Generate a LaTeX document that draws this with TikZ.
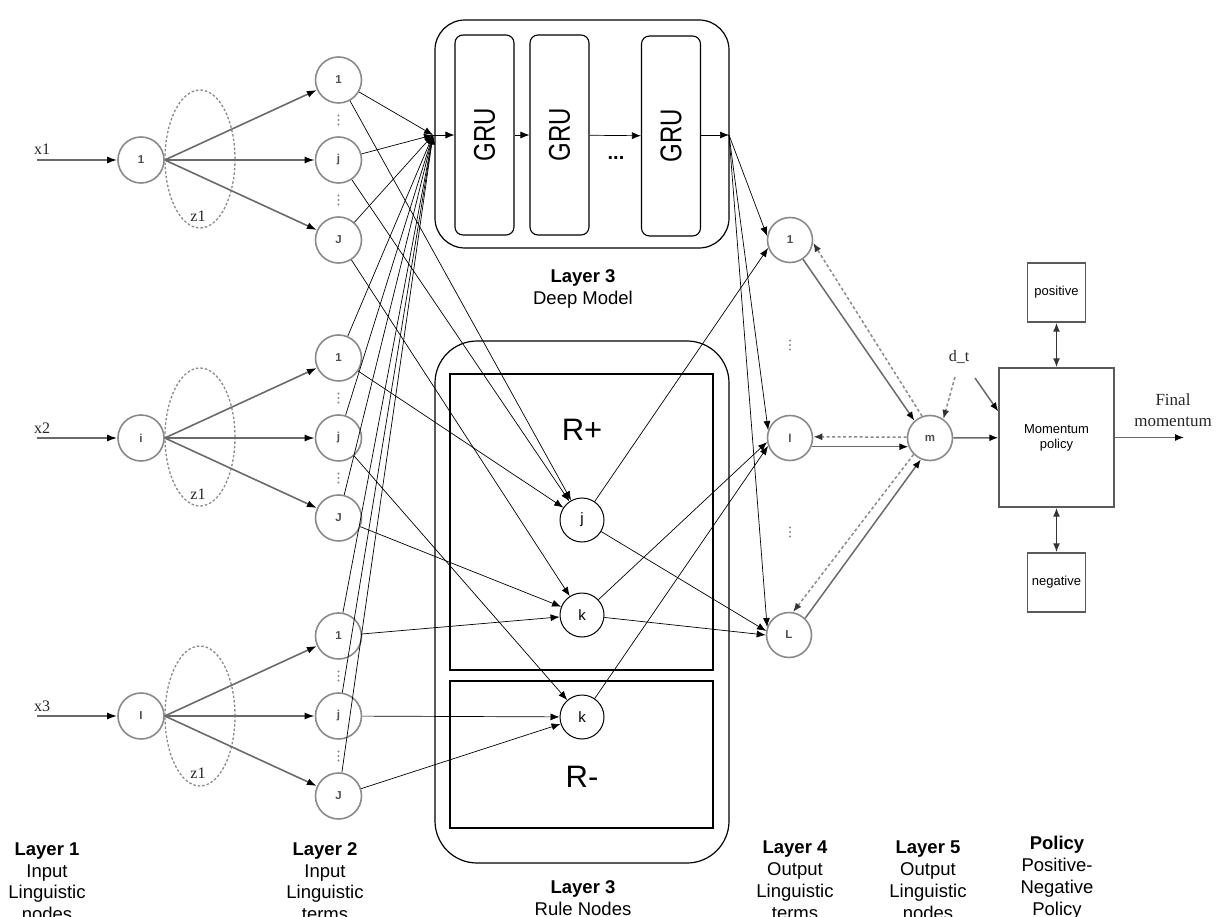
\documentclass[tikz,border=0pt]{standalone}
\usepackage{fontspec}
\setmainfont{Liberation Sans}
\newfontfamily\seriffont{Liberation Serif}
\usetikzlibrary{arrows.meta,calc}
\definecolor{cgray}{HTML}{8A8A8A}
\definecolor{lgray}{HTML}{6A6A6A}
\definecolor{tgray}{HTML}{505050}
\definecolor{bgray}{HTML}{5A5A5A}
\begin{document}
\begin{tikzpicture}[x=1pt,y=-1pt,
  lnode/.style={circle, draw=cgray, line width=1.6pt, fill=white, minimum size=46pt, inner sep=0pt, font=\fontsize{11.5}{11.5}\selectfont\bfseries, text=tgray},
  onode/.style={circle, draw=cgray, line width=1.6pt, fill=white, minimum size=45pt, inner sep=0pt, font=\fontsize{11.5}{11.5}\selectfont\bfseries, text=tgray},
  rnode/.style={circle, draw=black, line width=1pt, fill=white, minimum size=44pt, inner sep=0pt, font=\fontsize{15}{15}\selectfont},
  grubox/.style={draw=black, line width=1.1pt, rounded corners=8pt, minimum width=59pt, minimum height=200pt, inner sep=0pt},
  grutext/.style={rotate=90, font=\fontsize{30}{30}\selectfont, inner sep=0pt},
  pbox/.style={draw=bgray, line width=1.4pt, inner sep=0pt, align=center, font=\fontsize{13}{15}\selectfont},
  garr/.style={draw=lgray, line width=1.6pt, -{Latex[length=10pt,width=7pt,color=black]}},
  tarr/.style={draw=black, line width=0.7pt, -{Latex[length=9pt,width=7pt]}},
  sarr/.style={draw=lgray, line width=1.5pt, -{Latex[length=9pt,width=7pt,color=black]}},
  darr/.style={draw=cgray, line width=1.5pt, dash pattern=on 3pt off 2.5pt, -{Latex[length=9pt,width=7pt,color=black!80]}},
  barr/.style={draw=black!80, line width=1.5pt, {Latex[length=9pt,width=7pt]}-{Latex[length=9pt,width=7pt]}},
  zell/.style={draw=cgray, line width=1.3pt, dash pattern=on 2.5pt off 2pt},
  blab/.style={anchor=base, inner sep=0pt, font=\fontsize{18.5}{22}\selectfont},
  slab/.style={inner sep=0pt, font=\fontsize{16}{18}\seriffont, text=black!85},
  vdot/.style={fill=cgray, draw=none}
]
\useasboundingbox (0,0) rectangle (1229,917);
\clip (0,0) rectangle (1229,917);

% ---------- containers ----------
\node[draw=black, line width=1.2pt, rounded corners=30pt, minimum width=294pt, minimum height=228pt, inner sep=0pt] (deep) at (582,134) {};
\node[grubox] (g1) at (484.5,135) {};
\node[grubox] (g2) at (559.5,135) {};
\node[grubox] (g3) at (671,136) {};
\node[grutext] (gt1) at (g1) {\scalebox{0.8}[1]{GRU}};
\node[grutext] (gt2) at (g2) {\scalebox{0.8}[1]{GRU}};
\node[grutext] (gt3) at (g3) {\scalebox{0.8}[1]{GRU}};
\node[inner sep=0pt, font=\fontsize{20}{20}\selectfont\bfseries] (gdots) at (616,158) {...};

\node[draw=black, line width=1.2pt, rounded corners=42pt, minimum width=294pt, minimum height=522pt, inner sep=0pt] (rules) at (582,602) {};
\node[draw=black, line width=1.2pt, minimum width=263pt, minimum height=296pt, inner sep=0pt] (rplus) at (581.5,522) {};
\node[draw=black, line width=1.2pt, minimum width=263pt, minimum height=147pt, inner sep=0pt] (rminus) at (581.5,754.5) {};
\node[inner sep=0pt, font=\fontsize{31}{31}\selectfont] (rpl) at (582,430) {R+};
\node[inner sep=0pt, font=\fontsize{31}{31}\selectfont] (rml) at (582,777) {R-};

% ---------- layer 1 ----------
\node[lnode] (a1) at (141,160) {1};
\node[lnode] (a2) at (141,438) {i};
\node[lnode] (a3) at (141,716) {I};
\draw[zell] (200,159) ellipse [x radius=35pt, y radius=69pt];
\draw[zell] (200,437) ellipse [x radius=35pt, y radius=69pt];
\draw[zell] (200,716) ellipse [x radius=35pt, y radius=70pt];
\node[slab] (z1a) at (198,216) {z1};
\node[slab] (z1b) at (198,494) {z1};
\node[slab] (z1c) at (198,773) {z1};
\node[slab, anchor=base west] (x1l) at (34,155) {x1};
\node[slab, anchor=base west] (x2l) at (34,433) {x2};
\node[slab, anchor=base west] (x3l) at (34,711) {x3};
\coordinate (x1s) at (37,160);
\coordinate (x2s) at (37,438);
\coordinate (x3s) at (37,716);
\draw[garr] (x1s) -- (a1);
\draw[garr] (x2s) -- (a2);
\draw[garr] (x3s) -- (a3);

% ---------- layer 2 ----------
\node[lnode] (b11) at (338.5,80) {1};
\node[lnode] (b12) at (338.5,160) {j};
\node[lnode] (b13) at (338.5,240) {J};
\node[lnode] (b21) at (338.5,358) {1};
\node[lnode] (b22) at (338.5,438) {j};
\node[lnode] (b23) at (338.5,518) {J};
\node[lnode] (b31) at (338.5,636) {1};
\node[lnode] (b32) at (338.5,716) {j};
\node[lnode] (b33) at (338.5,796) {J};
\foreach \px/\py in {338.5/120,338.5/200,338.5/398,338.5/478,338.5/676,338.5/756,790/345,790/532}
  \foreach \dy in {-4.5,0,4.5}
    \fill[vdot] (\px,\py+\dy) circle [radius=1.1pt];

\foreach \s/\t in {a1/b11,a1/b12,a1/b13,a2/b21,a2/b22,a2/b23,a3/b31,a3/b32,a3/b33}
  \draw[garr] (\s.east) -- (\t);

% ---------- rule nodes ----------
\node[rnode] (jp) at (582,520) {j};
\node[rnode] (kp) at (582,615) {k};
\node[rnode] (km) at (582,717) {k};

% ---------- layer 4 / 5 ----------
\node[onode] (o1) at (790,240) {1};
\node[onode] (ol) at (790,438) {l};
\node[onode] (oL) at (789,635) {L};
\node[onode] (m) at (930,438) {m};

% ---------- policy ----------
\node[pbox, minimum width=115pt, minimum height=139pt] (mp) at (1056.5,437.5) {Momentum\\policy};
\node[pbox, minimum width=58pt, minimum height=59pt] (pos) at (1056.5,292.5) {positive};
\node[pbox, minimum width=58pt, minimum height=59pt] (neg) at (1056.5,582.5) {negative};

% ---------- connectors into the deep model ----------
\coordinate (conv) at (433,135);
\coordinate (gout) at (729,135);
\foreach \b in {b11,b12,b13,b21,b22,b23,b31,b32,b33}
  \draw[tarr] (\b) -- (conv);
\draw[tarr] (conv) -- (g1);
\draw[tarr] (g1) -- (g2);
\draw[tarr] (g2) -- (g3);
\draw[tarr] (g3.east |- gout) -- (gout);

% ---------- layer 2 -> rule nodes ----------
\foreach \s/\t in {b11/jp,b12/jp,b21/jp,b13/kp,b23/kp,b31/kp,b22/km,b32/km,b33/km}
  \draw[tarr] (\s) -- (\t);

% ---------- into layer 4 ----------
\draw[tarr] (gout) -- (o1.170);
\draw[tarr] (gout) -- (ol.160);
\draw[tarr] (gout) -- (oL.160);
\draw[tarr] (jp) -- (o1.200);
\draw[tarr] (jp) -- (oL.170);
\draw[tarr] (kp) -- (ol.190);
\draw[tarr] (kp) -- (oL.180);
\draw[tarr] (km) -- (ol.200);

% ---------- layer 4 <-> layer 5 ----------
\draw[sarr] (o1.-56) -- (m.132);
\draw[darr] (m.110) -- (o1.-7);
\draw[darr] (m.178) -- (ol.3);
\draw[sarr] (ol.-22) -- (m.-158);
\draw[sarr] (oL.46) -- (m.-113);
\draw[darr] (m.-135) -- (oL.80);

\node[slab, anchor=base] (dt) at (959,362) {d\_t};
\coordinate (dts) at (955,377);
\draw[darr] (dts) -- (m.55);
\coordinate (dtb) at (975,378);
\draw[sarr] (dtb) -- ([yshift=26pt]mp.west);
\draw[sarr] (m) -- (mp);
\coordinate (fin) at (1184,437.5);
\draw[sarr] (mp) -- (fin);
\node[slab, anchor=base, font=\fontsize{17}{19}\seriffont] (fin1) at (1173,405) {Final};
\node[slab, anchor=base, font=\fontsize{17}{19}\seriffont] (fin2) at (1173,426) {momentum};
\draw[barr] (pos) -- (mp);
\draw[barr] (neg) -- (mp);

% ---------- captions ----------
\node[blab] (c11) at (47,855) {\textbf{Layer 1}};
\node[blab] (c12) at (47,877) {Input};
\node[blab] (c13) at (47,898) {Linguistic};
\node[blab] (c14) at (47,920) {nodes};
\node[blab] (c21) at (325,855) {\textbf{Layer 2}};
\node[blab] (c22) at (325,877) {Input};
\node[blab] (c23) at (325,898) {Linguistic};
\node[blab] (c24) at (325,920) {terms};
\node[blab] (c31) at (583,283) {\textbf{Layer 3}};
\node[blab] (c32) at (583,305) {Deep Model};
\node[blab] (c33) at (583,893) {\textbf{Layer 3}};
\node[blab] (c34) at (583,915) {Rule Nodes};
\node[blab] (c41) at (795,853) {\textbf{Layer 4}};
\node[blab] (c42) at (795,875) {Output};
\node[blab] (c43) at (795,897) {Linguistic};
\node[blab] (c44) at (795,919) {terms};
\node[blab] (c51) at (928,853) {\textbf{Layer 5}};
\node[blab] (c52) at (928,875) {Output};
\node[blab] (c53) at (928,897) {Linguistic};
\node[blab] (c54) at (928,919) {nodes};
\node[blab] (c61) at (1057,849) {\textbf{Policy}};
\node[blab] (c62) at (1057,871) {Positive-};
\node[blab] (c63) at (1057,893) {Negative};
\node[blab] (c64) at (1057,915) {Policy};
\end{tikzpicture}
\end{document}
